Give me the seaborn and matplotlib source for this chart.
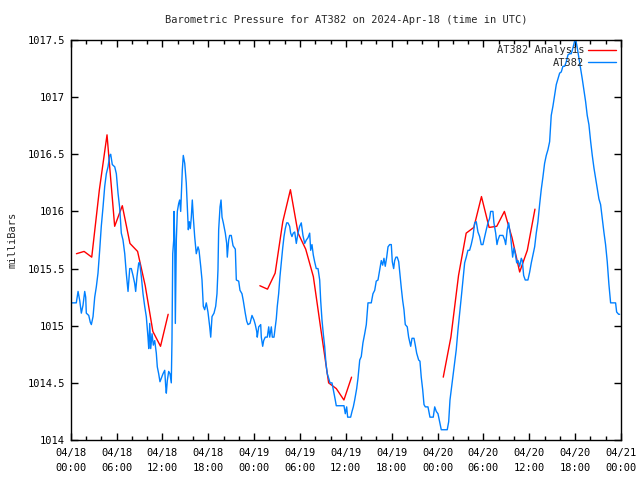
import numpy as np
import pandas as pd
import matplotlib
matplotlib.use("Agg")
import matplotlib.pyplot as plt
import matplotlib.dates as mdates
from matplotlib.lines import Line2D
import seaborn as sns

# hours after 2024-04-18 00:00 UTC, pressure in mb
blue_hours = [0.17, 0.73, 0.96, 1.18, 1.39, 1.61, 1.83, 1.96, 2.04, 2.36, 2.56, 2.70, 2.92, 3.14, 3.35, 3.57, 3.79, 4.00, 4.23, 4.45,
              4.66, 4.88, 5.10, 5.23, 5.44, 5.76, 5.97, 6.19, 6.41, 6.62, 6.84, 7.07, 7.27, 7.41, 7.50, 7.72, 7.93, 8.15, 8.37, 8.50,
              8.67, 8.90, 9.03, 9.24, 9.46, 9.68, 9.89, 10.11, 10.21, 10.34,
              10.47, 10.64, 10.81, 10.99, 11.20, 11.33, 11.51, 11.68, 11.85, 12.08, 12.30, 12.43, 12.51, 12.64, 12.82, 12.99, 13.16,
              13.25, 13.35, 13.48, 13.52, 13.61, 13.69, 13.82, 13.95, 14.13, 14.26, 14.39, 14.47, 14.60, 14.73, 14.92, 15.12, 15.26,
              15.39, 15.52, 15.65, 15.78, 15.91, 16.04, 16.22, 16.43, 16.66, 16.79, 17.01, 17.18, 17.35, 17.53, 17.74, 17.96, 18.19,
              18.32, 18.49, 18.75, 18.97, 19.14, 19.27, 19.36, 19.54, 19.67, 19.80, 19.97, 20.23, 20.41, 20.49, 20.67, 20.80,
              21.01, 21.24, 21.54, 21.67, 21.98, 22.15, 22.41, 22.58, 22.84, 23.03, 23.20, 23.46, 23.72, 23.98, 24.15, 24.34, 24.41,
              24.60, 24.86, 24.94, 25.12, 25.25, 25.46, 25.72, 25.91, 26.04, 26.25, 26.38, 26.60, 26.77, 26.90, 27.03, 27.21, 27.38,
              27.55, 27.74, 27.91, 28.08, 28.26, 28.43, 28.65, 28.78, 28.95, 29.12, 29.31, 29.52, 29.74, 29.96, 30.17, 30.39, 30.62,
              30.83, 31.05, 31.27,
              31.40, 31.57, 31.74, 31.92, 32.13, 32.36, 32.58, 32.71, 32.88, 33.05, 33.23, 33.40, 33.57, 33.76, 33.93, 34.19, 34.45,
              34.62, 34.75, 35.76, 35.93, 36.11, 36.24, 36.45, 36.63, 36.81, 36.98, 37.16, 37.42, 37.59, 37.82, 38.02, 38.24, 38.47,
              38.68, 38.90, 39.33, 39.55, 39.78, 39.98, 40.21, 40.43, 40.64, 40.82, 40.99, 41.16, 41.35, 41.52, 41.74,
              41.95, 42.08, 42.26, 42.39, 42.56, 42.73, 42.92, 43.09, 43.26, 43.44, 43.61, 43.78, 44.04, 44.22, 44.49, 44.66, 44.92,
              45.09, 45.27, 45.53, 45.70, 45.87, 46.06, 46.23, 46.40, 46.75, 47.01, 47.44, 47.63, 47.84, 48.06, 48.28, 48.49, 49.27,
              49.46, 49.63, 49.80, 50.02, 50.24, 50.45, 50.67, 50.90, 51.11, 51.33, 51.55, 51.76, 51.98, 52.20,
              52.41, 52.64, 52.86, 53.07, 53.29, 53.51, 53.72, 53.94, 54.17, 54.38, 54.60, 54.82, 54.95, 55.25, 55.38, 55.61, 55.78,
              55.91, 56.13, 56.56, 56.79, 56.92, 57.12, 57.31, 57.44, 57.57, 57.70, 57.83, 58.00, 58.17, 58.36, 58.53, 58.75, 58.96,
              59.09, 59.27, 59.48, 59.83, 60.06, 60.27, 60.49, 60.71, 60.92, 61.14, 61.36, 61.57, 61.79, 62.01, 62.23, 62.45, 62.67,
              62.88, 63.10, 63.33, 63.54, 63.76, 63.98, 64.19, 64.41, 64.64, 64.85, 65.07, 65.29, 65.50, 65.72, 65.94, 66.12, 66.29,
              66.51, 66.73, 66.94, 67.16, 67.38, 67.59, 67.81, 68.04, 68.25, 68.47, 68.69, 68.90, 69.12, 69.34, 69.55, 69.77, 69.99,
              70.21, 70.43, 70.65, 71.08, 71.30, 71.44, 71.70, 71.83]
blue_mb = [1015.20, 1015.20, 1015.30, 1015.22, 1015.11, 1015.18, 1015.30, 1015.25, 1015.11, 1015.09, 1015.03, 1015.01, 1015.08, 1015.25,
           1015.34, 1015.46, 1015.66, 1015.87, 1016.04, 1016.22, 1016.33, 1016.39, 1016.49, 1016.50, 1016.41, 1016.39, 1016.33, 1016.16,
           1016.03, 1015.81, 1015.75, 1015.63, 1015.46, 1015.36, 1015.30, 1015.50, 1015.50, 1015.44, 1015.37, 1015.30, 1015.43, 1015.55,
           1015.55, 1015.43, 1015.28, 1015.17, 1015.08, 1014.90, 1014.80, 1015.02,
           1014.80, 1014.93, 1014.83, 1014.87, 1014.76, 1014.64, 1014.58, 1014.51, 1014.54, 1014.58, 1014.61, 1014.47, 1014.41, 1014.52,
           1014.60, 1014.58, 1014.50, 1014.87, 1015.63, 1015.75, 1016.00, 1015.75, 1015.02, 1015.75, 1016.00, 1016.07, 1016.10, 1016.00,
           1016.13, 1016.36, 1016.49, 1016.42, 1016.25, 1016.04, 1015.84, 1015.91, 1015.85, 1015.95, 1016.10, 1015.95, 1015.78, 1015.63,
           1015.69, 1015.66, 1015.52, 1015.40, 1015.17, 1015.14, 1015.20, 1015.12, 1014.99, 1014.90, 1015.08, 1015.11, 1015.17, 1015.28,
           1015.49, 1015.84, 1016.04, 1016.10, 1015.95, 1015.90, 1015.81, 1015.72, 1015.60, 1015.75, 1015.79,
           1015.79, 1015.70, 1015.67, 1015.40, 1015.39, 1015.31, 1015.28, 1015.22, 1015.11, 1015.04, 1015.01, 1015.02, 1015.09, 1015.05,
           1015.01, 1014.95, 1014.90, 1014.99, 1015.01, 1014.90, 1014.82, 1014.87, 1014.90, 1014.90, 1014.99, 1014.90, 1014.99, 1014.90,
           1014.90, 1014.99, 1015.06, 1015.17, 1015.28, 1015.43, 1015.55, 1015.68, 1015.78, 1015.85, 1015.90, 1015.90, 1015.87, 1015.81,
           1015.78, 1015.81, 1015.82, 1015.72, 1015.81, 1015.87, 1015.90, 1015.79, 1015.72, 1015.75, 1015.77, 1015.81,
           1015.66, 1015.71, 1015.62, 1015.56, 1015.50, 1015.50, 1015.40, 1015.22, 1015.05, 1014.93, 1014.82, 1014.67, 1014.58, 1014.54,
           1014.50, 1014.50, 1014.41, 1014.35, 1014.30, 1014.30, 1014.23, 1014.29, 1014.20, 1014.20, 1014.20, 1014.25, 1014.29, 1014.35,
           1014.45, 1014.54, 1014.70, 1014.73, 1014.85, 1014.93, 1015.01, 1015.20, 1015.20, 1015.28, 1015.31, 1015.39, 1015.40, 1015.49,
           1015.57, 1015.53, 1015.59, 1015.52, 1015.60, 1015.69, 1015.71,
           1015.71, 1015.56, 1015.50, 1015.57, 1015.60, 1015.60, 1015.56, 1015.44, 1015.33, 1015.22, 1015.14, 1015.01, 1014.99, 1014.90,
           1014.82, 1014.89, 1014.89, 1014.83, 1014.76, 1014.70, 1014.69, 1014.55, 1014.44, 1014.31, 1014.29, 1014.29, 1014.20, 1014.20,
           1014.29, 1014.25, 1014.23, 1014.16, 1014.09, 1014.09, 1014.16, 1014.35, 1014.44, 1014.55, 1014.67, 1014.79, 1014.96, 1015.11,
           1015.25, 1015.40, 1015.55, 1015.60, 1015.66, 1015.66,
           1015.71, 1015.78, 1015.90, 1015.91, 1015.82, 1015.78, 1015.71, 1015.71, 1015.78, 1015.84, 1015.90, 1015.94, 1016.00, 1016.00,
           1015.90, 1015.81, 1015.71, 1015.75, 1015.79, 1015.79, 1015.75, 1015.71, 1015.84, 1015.90, 1015.84, 1015.78, 1015.69, 1015.60,
           1015.68, 1015.63, 1015.55, 1015.57, 1015.52, 1015.59, 1015.57, 1015.44, 1015.40, 1015.40, 1015.47, 1015.55, 1015.62, 1015.69,
           1015.81, 1015.91, 1016.06, 1016.19, 1016.30, 1016.42, 1016.49, 1016.54, 1016.61,
           1016.84, 1016.92, 1017.02, 1017.11, 1017.16, 1017.21, 1017.22, 1017.27, 1017.27, 1017.31, 1017.37, 1017.38, 1017.38, 1017.43,
           1017.49, 1017.49, 1017.43, 1017.34, 1017.25, 1017.16, 1017.06, 1016.96, 1016.84, 1016.76, 1016.61, 1016.49, 1016.38, 1016.29,
           1016.20, 1016.11, 1016.06, 1015.94, 1015.82, 1015.71, 1015.56, 1015.36, 1015.20, 1015.20, 1015.20, 1015.12, 1015.10, 1015.10]

red_hours = [0.75, 1.75, 2.75, 3.75, 4.75, 5.75, 6.75, 7.75, 8.75, 9.75, 10.75, 11.75, 12.75,
             24.75, 25.75, 26.75, 27.75, 28.75, 29.75, 30.75, 31.75, 32.75, 33.75, 34.75, 35.75, 36.75,
             48.75, 49.75, 50.75, 51.75, 52.75, 53.75, 54.75, 55.75, 56.75, 57.75, 58.75, 59.75, 60.75]
red_mb = [1015.63, 1015.65, 1015.60, 1016.19, 1016.67, 1015.87, 1016.05, 1015.72, 1015.65, 1015.35, 1014.95, 1014.82, 1015.10,
          1015.35, 1015.32, 1015.46, 1015.91, 1016.19, 1015.81, 1015.67, 1015.43, 1014.96, 1014.50, 1014.45, 1014.35, 1014.55,
          1014.55, 1014.90, 1015.44, 1015.81, 1015.86, 1016.13, 1015.86, 1015.87, 1016.00, 1015.77, 1015.47, 1015.66, 1016.02]
red_run = [1] * 13 + [2] * 13 + [3] * 13

start = pd.Timestamp("2024-04-18 00:00")
obs = pd.DataFrame({"time": start + pd.to_timedelta(blue_hours, unit="h"), "mb": blue_mb})
ana = pd.DataFrame({"time": start + pd.to_timedelta(red_hours, unit="h"), "mb": red_mb, "run": red_run})

sns.set_style("ticks")
plt.rcParams["font.family"] = ["DejaVu Sans Mono"]

fig = plt.figure(figsize=(6.4, 4.8), dpi=100)
ax = fig.add_axes([0.1105, 0.0833, 0.8597, 0.8334])

red = "#ff0000"
blue = "#0080ff"
sns.lineplot(data=ana, x="time", y="mb", units="run", estimator=None, color=red, lw=1, ax=ax, legend=False)
sns.lineplot(data=obs, x="time", y="mb", estimator=None, color=blue, lw=1, ax=ax, legend=False)

ax.set_xlim(start, start + pd.Timedelta(hours=72))
ax.set_ylim(1014, 1017.5)
ax.set_yticks(np.arange(1014, 1017.51, 0.5))
ax.set_yticklabels([f"{v:g}" for v in np.arange(1014, 1017.51, 0.5)])
ax.xaxis.set_major_locator(mdates.HourLocator(byhour=[0, 6, 12, 18]))
ax.xaxis.set_minor_locator(mdates.HourLocator(byhour=range(0, 24, 2)))
ax.xaxis.set_major_formatter(mdates.DateFormatter("%m/%d\n%H:%M"))
for lab in ax.get_xticklabels():
    lab.set_linespacing(1.6)

ax.tick_params(which="both", direction="in", top=True, right=True, labelsize=7.5, width=1, colors="black")
ax.tick_params(which="major", length=5)
ax.tick_params(which="minor", length=3)
ax.tick_params(axis="x", pad=6)
ax.tick_params(axis="y", pad=4)
for s in ax.spines.values():
    s.set_color("black")
    s.set_linewidth(1)

ax.set_xlabel("")
ax.set_ylabel("milliBars", fontsize=7.5, labelpad=7)
ax.set_title("Barometric Pressure for AT382 on 2024-Apr-18 (time in UTC)", fontsize=7.5, pad=12)

handles = [Line2D([], [], color=red, lw=1), Line2D([], [], color=blue, lw=1)]
ax.legend(handles, ["AT382 Analysis", "AT382"], loc="upper right", frameon=False, markerfirst=False,
          fontsize=7.5, handlelength=2.7, handletextpad=0.3, labelspacing=0.25, borderaxespad=0.3, borderpad=0.2)

fig.savefig("out.png", dpi=100)
